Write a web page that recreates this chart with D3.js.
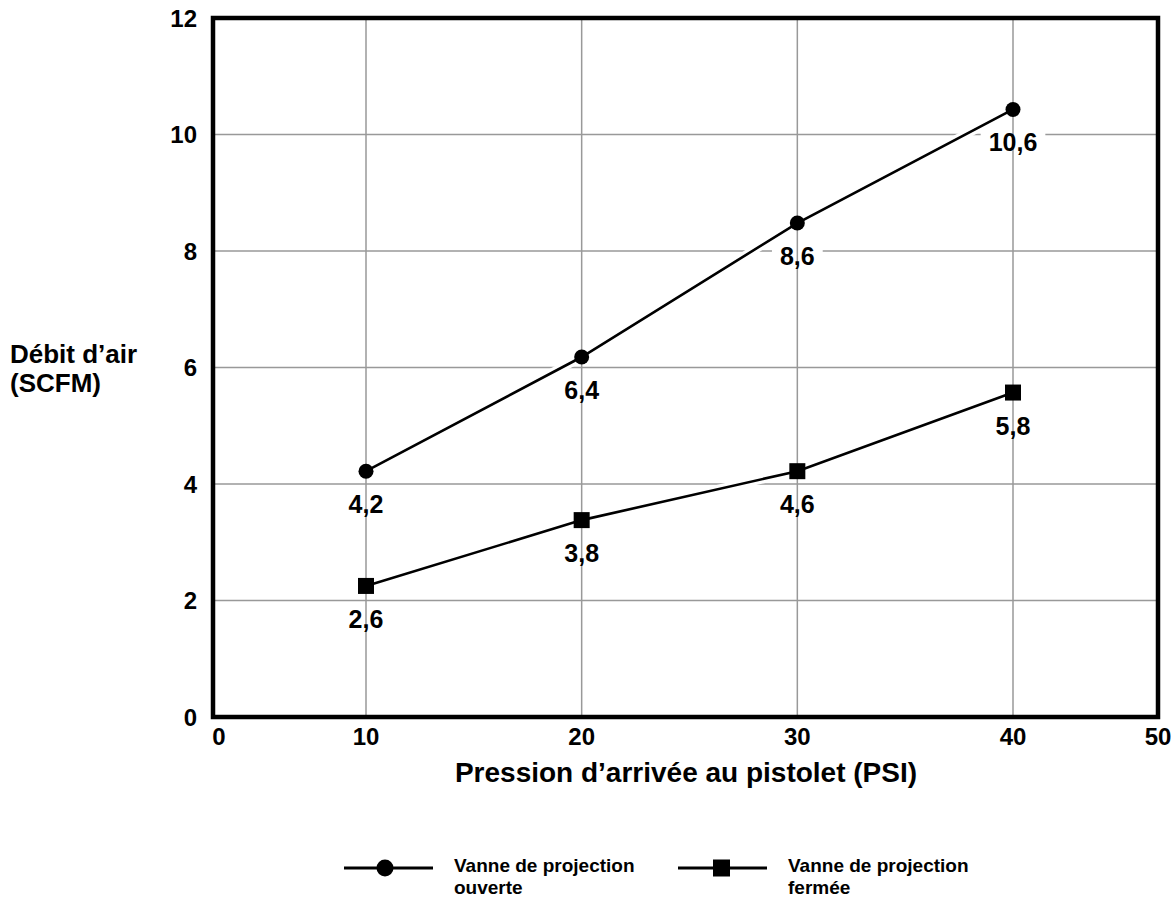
<!DOCTYPE html>
<html>
<head>
<meta charset="utf-8">
<script src="https://cdn.jsdelivr.net/npm/d3@7"></script>
<style>
  body { margin: 0; background: #fff; }
  svg { display: block; font-family: "Liberation Sans", Arial, sans-serif; font-weight: bold; }
</style>
</head>
<body>
<svg width="1175" height="898"></svg>
<script>
// values
var pressure = [10, 20, 30, 40];
var openFlow = [4.22, 6.18, 8.48, 10.43];
var closedFlow = [2.25, 3.38, 4.22, 5.57];
var openLabels = ['4,2', '6,4', '8,6', '10,6'];
var closedLabels = ['2,6', '3,8', '4,6', '5,8'];
var xTicks = [0, 10, 20, 30, 40, 50];
var yTicks = [0, 2, 4, 6, 8, 10, 12];
var xGrid = [10, 20, 30, 40];
var yGrid = [2, 4, 6, 8, 10];
var legendNames = [['Vanne de projection', 'ouverte'], ['Vanne de projection', 'fermée']];

var svg = d3.select('svg');
var plotLeft = 213, plotRight = 1158, plotTop = 18, plotBottom = 717;

// the 0 and 50 ends sit closer to 10 and 40 than the inner steps do
var x = d3.scaleLinear()
  .domain([0, 10, 40, 50])
  .range([plotLeft, 366, 1013, plotRight]);

var y = d3.scaleLinear()
  .domain([0, 12])
  .range([plotBottom, plotTop]);

var series = [
  { values: openFlow, labels: openLabels, shape: 'circle' },
  { values: closedFlow, labels: closedLabels, shape: 'square' }
];

var grid = svg.append('g');
grid.selectAll('.hg')
  .data(yGrid)
  .enter().append('line')
  .attr('x1', plotLeft).attr('x2', plotRight)
  .attr('y1', function(d) { return y(d); })
  .attr('y2', function(d) { return y(d); })
  .attr('stroke', '#999').attr('stroke-width', 1.5);

// white boxes behind value labels hide the horizontal grid
var labelBg = svg.append('g');

grid = svg.append('g');
grid.selectAll('.vg')
  .data(xGrid)
  .enter().append('line')
  .attr('y1', plotTop).attr('y2', plotBottom)
  .attr('x1', function(d) { return x(d); })
  .attr('x2', function(d) { return x(d); })
  .attr('stroke', '#999').attr('stroke-width', 1.5);

var line = d3.line()
  .x(function(d, i) { return x(pressure[i]); })
  .y(function(d) { return y(d); });

series.forEach(function(s) {
  svg.append('path')
    .attr('d', line(s.values))
    .attr('fill', 'none')
    .attr('stroke', '#fff')
    .attr('stroke-width', 9);
});

series.forEach(function(s) {
  svg.append('path')
    .attr('d', line(s.values))
    .attr('fill', 'none')
    .attr('stroke', '#000')
    .attr('stroke-width', 2.6);

  s.values.forEach(function(v, i) {
    var cx = x(pressure[i]), cy = y(v);
    if (s.shape === 'circle') {
      svg.append('circle').attr('cx', cx).attr('cy', cy).attr('r', 7.5).attr('fill', '#000');
    } else {
      svg.append('rect').attr('x', cx - 8).attr('y', cy - 8)
        .attr('width', 16).attr('height', 16).attr('fill', '#000');
    }
    var t = svg.append('text')
      .attr('x', cx).attr('y', cy + 42)
      .attr('text-anchor', 'middle')
      .attr('font-size', 25)
      .text(s.labels[i]);
    var b = t.node().getBBox();
    labelBg.append('rect')
      .attr('x', b.x - 8).attr('y', b.y)
      .attr('width', b.width + 16).attr('height', b.height)
      .attr('fill', '#fff');
  });
});

// frame
svg.append('rect')
  .attr('x', plotLeft).attr('y', plotTop)
  .attr('width', plotRight - plotLeft).attr('height', plotBottom - plotTop)
  .attr('fill', 'none')
  .attr('stroke', '#000')
  .attr('stroke-width', 4.5);

// tick labels
svg.selectAll('.xt')
  .data(xTicks)
  .enter().append('text')
  .attr('x', function(d) { return x(d) + (d === 0 ? 6 : 0); })
  .attr('y', 745)
  .attr('text-anchor', 'middle')
  .attr('font-size', 24)
  .text(function(d) { return d; });

svg.selectAll('.yt')
  .data(yTicks)
  .enter().append('text')
  .attr('x', 197)
  .attr('y', function(d) { return y(d); })
  .attr('dy', '0.36em')
  .attr('text-anchor', 'end')
  .attr('font-size', 24)
  .text(function(d) { return d; });

// axis titles
svg.append('text')
  .attr('x', 686).attr('y', 782)
  .attr('text-anchor', 'middle')
  .attr('font-size', 28)
  .text('Pression d’arrivée au pistolet (PSI)');

var yt = svg.append('text').attr('x', 10).attr('y', 363).attr('font-size', 26);
yt.append('tspan').attr('x', 10).text('Débit d’air');
yt.append('tspan').attr('x', 10).attr('dy', 29).text('(SCFM)');

// legend
var legendX = [344, 678];
legendNames.forEach(function(name, i) {
  var lx = legendX[i], ly = 868;
  svg.append('line')
    .attr('x1', lx).attr('x2', lx + 89)
    .attr('y1', ly).attr('y2', ly)
    .attr('stroke', '#000').attr('stroke-width', 3);
  if (i === 0) {
    svg.append('circle').attr('cx', lx + 41).attr('cy', ly).attr('r', 8.5).attr('fill', '#000');
  } else {
    svg.append('rect').attr('x', lx + 35).attr('y', ly - 8.5)
      .attr('width', 17).attr('height', 17).attr('fill', '#000');
  }
  var t = svg.append('text').attr('x', lx + 110).attr('y', 872).attr('font-size', 19);
  t.append('tspan').attr('x', lx + 110).text(name[0]);
  t.append('tspan').attr('x', lx + 110).attr('dy', 22).text(name[1]);
});
</script>
</body>
</html>
